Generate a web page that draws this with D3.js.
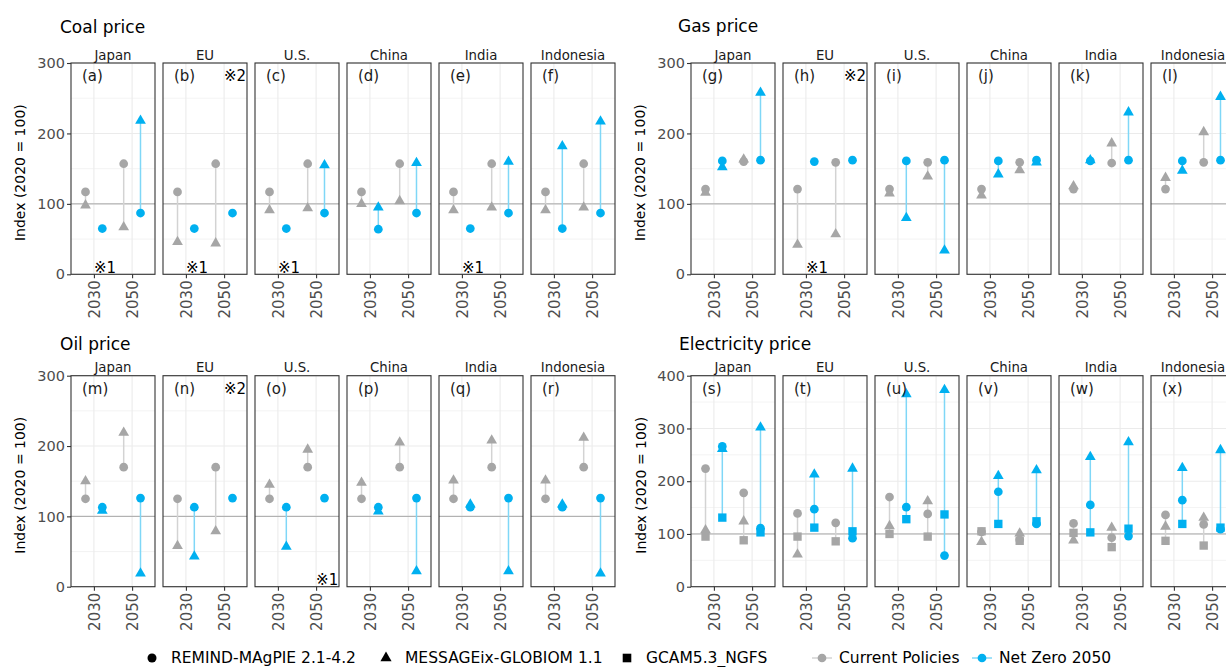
<!DOCTYPE html>
<html>
<head>
<meta charset="utf-8">
<script src="https://cdn.jsdelivr.net/npm/d3@7"></script>
<style>
  body { margin: 0; background: #fff; }
  svg { display: block; font-family: "DejaVu Sans", "Noto Sans", sans-serif; }
</style>
</head>
<body>
<svg id="chart" width="1226" height="667"></svg>
<script>
// ---- data ---------------------------------------------------------------
const regions = ["Japan", "EU", "U.S.", "China", "India", "Indonesia"];
const years = ["2030", "2050"];
const scenarios = ["Current Policies", "Net Zero 2050"];
const models = ["REMIND-MAgPIE 2.1-4.2", "MESSAGEix-GLOBIOM 1.1", "GCAM5.3_NGFS"];

// Each row is one region; values in order: CP 2030, NZ 2030, CP 2050, NZ 2050
// (index, 2020 = 100; null = not reported)
const coalRemind = [
  [117, 65, 157, 87], [117, 65, 157, 87], [117, 65, 157, 87],
  [117, 64, 157, 87], [117, 65, 157, 87], [117, 65, 157, 87]
];
const coalMessage = [
  [98, null, 67, 218], [46, null, 44, null], [91, null, 94, 155],
  [100, 95, 104, 158], [91, null, 95, 160], [91, 182, 95, 217]
];

const gasRemind = [
  [121, 161, 160, 162], [121, 160, 159, 162], [121, 161, 159, 162],
  [121, 161, 159, 162], [121, 161, 158, 162], [121, 161, 159, 162]
];
const gasMessage = [
  [116, 152, 163, 258], [42, null, 57, null], [115, 80, 139, 34],
  [112, 142, 148, 159], [125, 162, 186, 230], [137, 147, 202, 252]
];

const oilRemind = [
  [125, 113, 170, 126], [125, 113, 170, 126], [125, 113, 170, 126],
  [125, 113, 170, 126], [125, 113, 170, 126], [125, 113, 170, 126]
];
const oilMessage = [
  [150, 108, 219, 19], [58, 43, 79, null], [145, 57, 195, null],
  [148, 107, 205, 22], [151, 117, 208, 22], [151, 117, 212, 19]
];

const elecRemind = [
  [224, 266, 178, 111], [139, 147, 121, 92], [170, 151, 138, 59],
  [104, 180, 89, 119], [120, 155, 93, 96], [136, 164, 118, 109]
];
const elecMessage = [
  [107, 261, 124, 302], [61, 213, null, 224], [115, 365, 162, 373],
  [85, 210, 101, 221], [88, 246, 112, 274], [114, 225, 131, 259]
];
const elecGcam = [
  [95, 131, 88, 103], [95, 112, 86, 105], [100, 128, 95, 137],
  [105, 119, 87, 124], [102, 103, 75, 110], [87, 119, 78, 112]
];

const priceTicks = [0, 100, 200, 300];
const elecTicks = [0, 100, 200, 300, 400];

// footnote marks: ※1 (region, year), ※2 (region)
const coalNote1 = [["Japan", "2030"], ["EU", "2030"], ["U.S.", "2030"], ["India", "2030"]];
const gasNote1 = [["EU", "2030"]];
const oilNote1 = [["U.S.", "2050"]];
const note2Regions = ["EU"];

const panelLetters = "abcdefghijklmnopqrstuvwx".split("");

// ---- layout & styles ------------------------------------------------------
const COLORS = { "Current Policies": "#A6A6A6", "Net Zero 2050": "#00B0F0" };
const LINE_COLORS = { "Current Policies": "#D3D3D3", "Net Zero 2050": "#7FD7F7" };
const SYMBOLS = [d3.symbolCircle, d3.symbolTriangle, d3.symbolSquare];
const SYM_SIZE = [60, 50, 70];
const PW = 84, PSTEP = 92;

const blocks = [
  { title: "Coal price", tx: 60, ty: 33, left: 71, top: 63, bottom: 274.3, ymax: 300,
    ticks: priceTicks, series: [coalRemind, coalMessage, null], note1: coalNote1, note2: true, letter0: 0, axisX: 20 },
  { title: "Gas price", tx: 678, ty: 32, left: 691, top: 63, bottom: 274.3, ymax: 300,
    ticks: priceTicks, series: [gasRemind, gasMessage, null], note1: gasNote1, note2: true, letter0: 6, axisX: 640 },
  { title: "Oil price", tx: 60, ty: 350, left: 71, top: 375.7, bottom: 586.7, ymax: 300,
    ticks: priceTicks, series: [oilRemind, oilMessage, null], note1: oilNote1, note2: true, letter0: 12, axisX: 20 },
  { title: "Electricity price", tx: 679, ty: 350, left: 691, top: 375.7, bottom: 586.7, ymax: 400,
    ticks: elecTicks, series: [elecRemind, elecMessage, elecGcam], note1: [], note2: false, letter0: 18, axisX: 641 }
];

const svg = d3.select("#chart");

blocks.forEach(b => {
  svg.append("text")
    .attr("x", b.tx).attr("y", b.ty)
    .style("font-size", "17px").style("fill", "#000")
    .text(b.title);

  const y = d3.scaleLinear().domain([0, b.ymax]).range([b.bottom, b.top]);
  const x = d3.scalePoint().domain(years).range([0, PW]).padding(0.6);
  const dodge = d3.scalePoint().domain(scenarios).range([-x.step() * 0.22, x.step() * 0.22]);
  const minorTicks = b.ticks.slice(0, -1).map(t => t + (b.ticks[1] - b.ticks[0]) / 2);

  regions.forEach((region, ri) => {
    const g = svg.append("g").attr("transform", `translate(${b.left + ri * PSTEP},0)`);

    // grid
    g.selectAll(".minor").data(minorTicks).join("line")
      .attr("x1", 0).attr("x2", PW).attr("y1", d => y(d)).attr("y2", d => y(d))
      .attr("stroke", "#EEEEEE").attr("stroke-width", 0.7);
    g.selectAll(".major").data(b.ticks).join("line")
      .attr("x1", 0).attr("x2", PW).attr("y1", d => y(d)).attr("y2", d => y(d))
      .attr("stroke", "#EBEBEB").attr("stroke-width", 1.1);
    g.selectAll(".vgrid").data(years).join("line")
      .attr("x1", d => x(d)).attr("x2", d => x(d)).attr("y1", b.top).attr("y2", b.bottom)
      .attr("stroke", "#EBEBEB").attr("stroke-width", 1.1);

    // reference line at 2020 level
    g.append("line")
      .attr("x1", 0).attr("x2", PW).attr("y1", y(100)).attr("y2", y(100))
      .attr("stroke", "#A8A8A8").attr("stroke-width", 1);

    // gather points for this region
    const pts = [];
    years.forEach((yr, yi) => {
      scenarios.forEach((sc, si) => {
        b.series.forEach((arr, mi) => {
          if (!arr) return;
          const v = arr[ri][yi * 2 + si];
          if (v === null || v === undefined) return;
          pts.push({ year: yr, scenario: sc, model: mi, value: v });
        });
      });
    });

    // range segments per year & scenario
    const segs = [];
    years.forEach(yr => scenarios.forEach(sc => {
      const vals = pts.filter(p => p.year === yr && p.scenario === sc).map(p => p.value);
      if (vals.length > 1) segs.push({ year: yr, scenario: sc, lo: d3.min(vals), hi: d3.max(vals) });
    }));
    g.selectAll(".seg").data(segs).join("line")
      .attr("x1", d => x(d.year) + dodge(d.scenario)).attr("x2", d => x(d.year) + dodge(d.scenario))
      .attr("y1", d => y(d.lo)).attr("y2", d => y(d.hi))
      .attr("stroke", d => LINE_COLORS[d.scenario]).attr("stroke-width", 1.5);

    // points, drawn by model order
    g.selectAll(".pt").data(pts.sort((a, c) => a.model - c.model)).join("path")
      .attr("transform", d => `translate(${x(d.year) + dodge(d.scenario)},${y(d.value)})`)
      .attr("d", d => d3.symbol(SYMBOLS[d.model], SYM_SIZE[d.model])())
      .attr("fill", d => COLORS[d.scenario]);

    // footnote marks
    b.note1.filter(n => n[0] === region).forEach(n => {
      g.append("text")
        .attr("x", x(n[1]) + x.step() * 0.29).attr("y", b.bottom - 1.5)
        .attr("text-anchor", "middle")
        .style("font-size", "15px").style("fill", "#000")
        .text("※1");
    });
    if (b.note2 && note2Regions.includes(region)) {
      g.append("text")
        .attr("x", PW - 1).attr("y", b.top + 18)
        .attr("text-anchor", "end")
        .style("font-size", "15px").style("fill", "#000")
        .text("※2");
    }

    // panel border
    g.append("rect")
      .attr("x", 0).attr("y", b.top).attr("width", PW).attr("height", b.bottom - b.top)
      .attr("fill", "none").attr("stroke", "#333333").attr("stroke-width", 1.1);

    // strip label
    g.append("text")
      .attr("x", PW / 2).attr("y", b.top - 3.5)
      .attr("text-anchor", "middle")
      .style("font-size", "13.3px").style("fill", "#1A1A1A")
      .text(region);

    // panel letter
    g.append("text")
      .attr("x", 11).attr("y", b.top + 18)
      .style("font-size", "15px").style("fill", "#1A1A1A")
      .text(`(${panelLetters[b.letter0 + ri]})`);

    // bottom axis
    const xa = g.append("g").attr("transform", `translate(0,${b.bottom})`)
      .call(d3.axisBottom(x).tickSize(4).tickPadding(2));
    xa.select(".domain").remove();
    xa.selectAll(".tick line").attr("stroke", "#333333").attr("stroke-width", 1.1);
    xa.selectAll(".tick text")
      .attr("transform", "rotate(-90)")
      .attr("x", -6).attr("y", 0).attr("dy", "0.36em")
      .style("text-anchor", "end")
      .style("font-size", "15px").style("font-family", "'DejaVu Sans', sans-serif")
      .style("fill", "#4D4D4D");
  });

  // left axis on the first panel of the row
  const ya = svg.append("g").attr("transform", `translate(${b.left},0)`)
    .call(d3.axisLeft(y).tickValues(b.ticks).tickSize(4).tickPadding(2));
  ya.select(".domain").remove();
  ya.selectAll(".tick line").attr("stroke", "#333333").attr("stroke-width", 1.1);
  ya.selectAll(".tick text")
    .style("font-size", "14.5px").style("font-family", "'DejaVu Sans', sans-serif")
    .style("fill", "#4D4D4D");

  svg.append("text")
    .attr("transform", `translate(${b.axisX},${(b.top + b.bottom) / 2 + 4}) rotate(-90)`)
    .attr("text-anchor", "middle").attr("dy", "0.35em")
    .style("font-size", "14px").style("fill", "#000")
    .text("Index (2020 = 100)");
});

// ---- legend -------------------------------------------------------------
const legY = 658;
const legend = svg.append("g");
const modelKeyX = [152, 386, 627];
models.forEach((m, i) => {
  legend.append("path")
    .attr("transform", `translate(${modelKeyX[i]},${legY})`)
    .attr("d", d3.symbol(SYMBOLS[i], SYM_SIZE[i] + 4)())
    .attr("fill", "#000");
  legend.append("text")
    .attr("x", modelKeyX[i] + 19).attr("y", legY + 5)
    .style("font-size", "15.5px").style("fill", "#000")
    .text(m);
});
const scenKeyX = [822, 982];
scenarios.forEach((s, i) => {
  legend.append("line")
    .attr("x1", scenKeyX[i] - 10).attr("x2", scenKeyX[i] + 10)
    .attr("y1", legY).attr("y2", legY)
    .attr("stroke", LINE_COLORS[s]).attr("stroke-width", 1.5);
  legend.append("path")
    .attr("transform", `translate(${scenKeyX[i]},${legY})`)
    .attr("d", d3.symbol(d3.symbolCircle, 60)())
    .attr("fill", COLORS[s]);
  legend.append("text")
    .attr("x", scenKeyX[i] + 17).attr("y", legY + 5)
    .style("font-size", "15.5px").style("fill", "#000")
    .text(s);
});
</script>
</body>
</html>
